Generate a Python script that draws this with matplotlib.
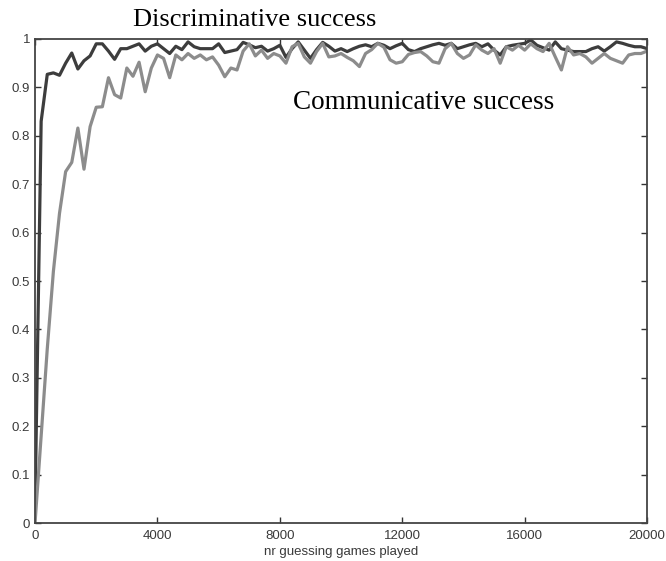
import numpy as np
import matplotlib
matplotlib.use('Agg')
import matplotlib.pyplot as plt

# games played, sampled every 200 games
games = np.arange(0, 20001, 200)

# discriminative success (dark line)
discriminative = [
    0.03, 0.83, 0.927, 0.93, 0.925, 0.95, 0.971, 0.938, 0.955, 0.965,
    0.99, 0.99, 0.975, 0.958, 0.98, 0.98, 0.985, 0.99, 0.975, 0.985,
    0.99, 0.98, 0.97, 0.985, 0.978, 0.994, 0.984, 0.98, 0.98, 0.98,
    0.99, 0.972, 0.975, 0.978, 0.993, 0.988, 0.982, 0.985, 0.975, 0.98,
    0.987, 0.962, 0.98, 0.994, 0.977, 0.96, 0.978, 0.993, 0.985, 0.975,
    0.98, 0.974, 0.98, 0.985, 0.988, 0.984, 0.991, 0.987, 0.98, 0.986,
    0.991, 0.978, 0.974, 0.98, 0.984, 0.988, 0.991, 0.987, 0.991, 0.98,
    0.984, 0.988, 0.991, 0.984, 0.99, 0.977, 0.967, 0.984, 0.987, 0.989,
    0.991, 0.998, 0.987, 0.982, 0.977, 0.994, 0.98, 0.977, 0.974, 0.974,
    0.974, 0.98, 0.984, 0.975, 0.984, 0.994, 0.991, 0.987, 0.984, 0.984,
    0.98,
]

# communicative success (light line)
communicative = [
    0.0, 0.18, 0.36, 0.52, 0.64, 0.726, 0.745, 0.816, 0.731, 0.819,
    0.859, 0.86, 0.92, 0.885, 0.878, 0.94, 0.923, 0.952, 0.891, 0.94,
    0.967, 0.96, 0.92, 0.967, 0.957, 0.97, 0.96, 0.967, 0.957, 0.963,
    0.946, 0.922, 0.94, 0.936, 0.975, 0.99, 0.965, 0.977, 0.96, 0.97,
    0.965, 0.95, 0.984, 0.991, 0.963, 0.95, 0.974, 0.991, 0.963, 0.965,
    0.97, 0.962, 0.955, 0.943, 0.97, 0.978, 0.991, 0.983, 0.957, 0.95,
    0.953, 0.968, 0.972, 0.974, 0.965, 0.953, 0.95, 0.98, 0.991, 0.97,
    0.96, 0.967, 0.988, 0.977, 0.97, 0.98, 0.95, 0.984, 0.977, 0.987,
    0.977, 0.99, 0.98, 0.974, 0.991, 0.963, 0.936, 0.984, 0.967, 0.97,
    0.963, 0.95, 0.96, 0.97, 0.96, 0.955, 0.95, 0.967, 0.97, 0.97,
    0.975,
]

x_ticks = [0, 4000, 8000, 12000, 16000, 20000]
y_ticks = [0, 0.1, 0.2, 0.3, 0.4, 0.5, 0.6, 0.7, 0.8, 0.9, 1]
y_tick_labels = ['0', '0.1', '0.2', '0.3', '0.4', '0.5', '0.6', '0.7', '0.8', '0.9', '1']

plt.rcParams['font.family'] = ['Liberation Sans', 'DejaVu Sans']

fig = plt.figure(figsize=(6.66, 5.61), dpi=100)
ax = fig.add_axes([0.0526, 0.0677, 0.919, 0.8628])

ax.plot(games, discriminative, color='#3d3d3d', linewidth=2.3)
ax.plot(games, communicative, color='#8c8c8c', linewidth=2.3)

ax.set_xlim(0, 20000)
ax.set_ylim(0, 1)
ax.set_xticks(x_ticks)
ax.set_xticklabels([str(t) for t in x_ticks])
ax.set_yticks(y_ticks)
ax.set_yticklabels(y_tick_labels)
ax.tick_params(direction='in', length=4, width=1, top=True, right=True,
               labelsize=9.5, labelcolor='#3a3a3a', color='#333333')
ax.tick_params(axis='x', pad=5)
ax.tick_params(axis='y', pad=3.5)
for s in ax.spines.values():
    s.set_color('#444444')
    s.set_linewidth(1.3)

ax.set_xlabel('nr guessing games played', fontsize=9.5, color='#3a3a3a', labelpad=3)

fig.text(133 / 666, 1 - 20 / 561, 'Discriminative success', family='Liberation Serif',
         fontsize=19, va='center', ha='left', color='black')
fig.text(293 / 666, 1 - 102 / 561, 'Communicative success', family='Liberation Serif',
         fontsize=19.5, va='center', ha='left', color='black')

fig.savefig('out.png', dpi=100)
